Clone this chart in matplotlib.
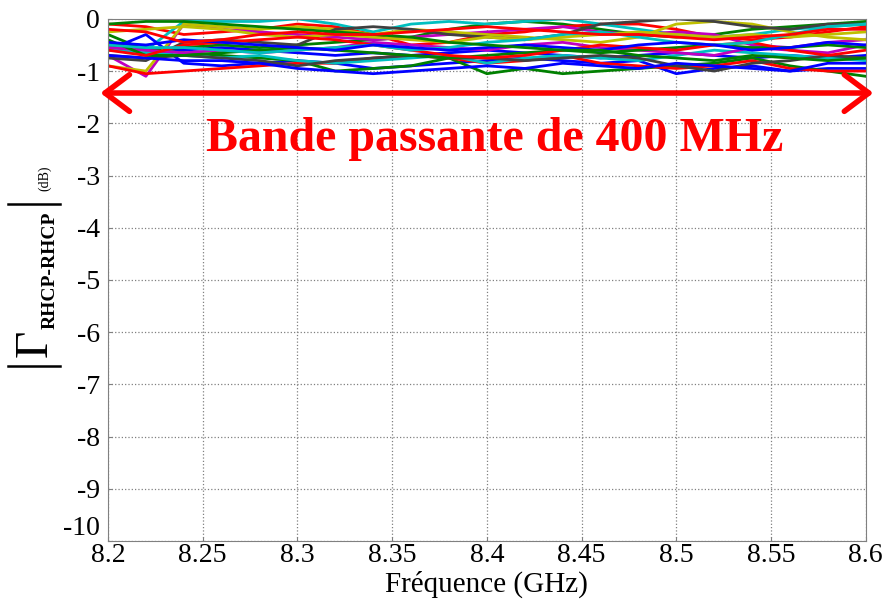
import numpy as np
import matplotlib
matplotlib.use('Agg')
import matplotlib.pyplot as plt
from matplotlib.lines import Line2D

plt.rcParams['font.family'] = ['Liberation Serif', 'DejaVu Serif']
plt.rcParams['axes.unicode_minus'] = False

# frequency points (GHz)
freq = [8.20, 8.22, 8.24, 8.26, 8.28, 8.30, 8.32, 8.34, 8.36, 8.38, 8.40,
        8.42, 8.44, 8.46, 8.48, 8.50, 8.52, 8.54, 8.56, 8.58, 8.60]

# |Gamma RHCP-RHCP| in dB, one list per curve
blue1 = [-0.5, -0.55, -0.6, -0.55, -0.6, -0.65, -0.7, -0.65, -0.7, -0.65, -0.6, -0.65, -0.7, -0.75, -0.7, -0.65, -0.7, -0.75, -0.7, -0.75, -0.7]
blue2 = [-0.6, -0.3, -0.85, -0.9, -0.85, -0.8, -0.85, -0.95, -0.9, -0.85, -0.8, -0.75, -0.8, -0.85, -0.8, -1.05, -0.95, -0.9, -1.0, -0.95, -0.95]
blue3 = [-0.7, -0.75, -0.8, -0.8, -0.85, -0.95, -1.0, -1.05, -1.0, -0.95, -0.9, -0.95, -0.85, -0.9, -0.95, -0.85, -0.9, -0.95, -1.0, -0.85, -0.85]
blue4 = [-0.45, -0.5, -0.4, -0.45, -0.5, -0.55, -0.6, -0.5, -0.55, -0.6, -0.55, -0.5, -0.55, -0.6, -0.5, -0.45, -0.5, -0.6, -0.55, -0.45, -0.5]
green1 = [-0.3, -0.6, -0.55, -0.5, -0.55, -0.5, -0.45, -0.4, -0.35, -0.2, -0.1, -0.05, -0.1, -0.2, -0.3, -0.35, -0.3, -0.2, -0.15, -0.1, -0.05]
green2 = [-0.55, -0.6, -0.65, -0.7, -0.75, -0.8, -1.0, -0.95, -0.9, -0.75, -1.05, -0.95, -1.05, -1.0, -0.95, -0.9, -0.85, -0.75, -0.9, -1.0, -1.1]
green3 = [-0.4, -0.7, -0.7, -0.65, -0.6, -0.55, -0.6, -0.65, -0.7, -0.75, -0.7, -0.65, -0.6, -0.65, -0.6, -0.55, -0.5, -0.55, -0.55, -0.5, -0.55]
green4 = [-0.1, -0.05, -0.05, -0.1, -0.15, -0.2, -0.25, -0.3, -0.35, -0.45, -0.5, -0.55, -0.6, -0.6, -0.7, -0.75, -0.8, -0.7, -0.75, -0.8, -0.75]
red1 = [-0.1, -0.15, -0.3, -0.25, -0.2, -0.1, -0.15, -0.3, -0.5, -0.45, -0.3, -0.25, -0.15, -0.1, -0.1, -0.2, -0.35, -0.4, -0.35, -0.25, -0.15]
red2 = [-0.9, -1.05, -1.0, -0.95, -0.9, -0.85, -0.85, -0.75, -0.7, -0.75, -0.85, -0.8, -0.7, -0.85, -0.9, -0.95, -0.9, -0.8, -0.95, -1.0, -1.0]
red3 = [-0.6, -0.7, -0.5, -0.45, -0.4, -0.35, -0.4, -0.5, -0.6, -0.7, -0.75, -0.7, -0.6, -0.5, -0.55, -0.6, -0.5, -0.45, -0.6, -0.7, -0.6]
red4 = [-0.2, -0.25, -0.45, -0.4, -0.3, -0.25, -0.3, -0.3, -0.25, -0.2, -0.15, -0.2, -0.25, -0.3, -0.3, -0.35, -0.4, -0.35, -0.3, -0.2, -0.2]
cyan1 = [-0.5, -0.6, -0.05, -0.05, -0.05, -0.0, -0.1, -0.25, -0.1, -0.05, -0.1, -0.05, -0.0, -0.1, -0.2, -0.3, -0.35, -0.3, -0.2, -0.15, -0.1]
cyan2 = [-0.6, -0.65, -0.7, -0.75, -0.7, -0.8, -0.85, -0.8, -0.75, -0.7, -0.85, -0.75, -0.7, -0.75, -0.8, -0.7, -0.6, -0.65, -0.7, -0.75, -0.8]
cyan3 = [-0.5, -0.55, -0.55, -0.6, -0.65, -0.6, -0.55, -0.5, -0.6, -0.55, -0.45, -0.4, -0.3, -0.25, -0.35, -0.45, -0.5, -0.45, -0.3, -0.15, -0.1]
magenta1 = [-0.7, -1.1, -0.1, -0.2, -0.25, -0.3, -0.35, -0.4, -0.35, -0.3, -0.25, -0.2, -0.15, -0.25, -0.3, -0.25, -0.3, -0.5, -0.55, -0.45, -0.4]
magenta2 = [-0.55, -0.6, -0.65, -0.6, -0.65, -0.6, -0.55, -0.45, -0.5, -0.55, -0.6, -0.5, -0.45, -0.55, -0.6, -0.65, -0.7, -0.55, -0.6, -0.65, -0.5]
yellow1 = [-0.9, -1.0, -0.1, -0.15, -0.2, -0.15, -0.2, -0.3, -0.2, -0.25, -0.3, -0.35, -0.4, -0.45, -0.35, -0.1, -0.05, -0.1, -0.25, -0.35, -0.4]
yellow2 = [-0.25, -0.2, -0.15, -0.2, -0.3, -0.35, -0.3, -0.35, -0.4, -0.45, -0.35, -0.4, -0.35, -0.3, -0.25, -0.3, -0.35, -0.3, -0.35, -0.3, -0.25]
gray1 = [-0.75, -0.8, -0.45, -0.4, -0.45, -0.5, -0.2, -0.15, -0.2, -0.3, -0.35, -0.4, -0.3, -0.1, -0.05, -0.0, -0.05, -0.15, -0.2, -0.1, -0.1]
gray2 = [-0.7, -0.75, -0.7, -0.75, -0.8, -0.9, -0.8, -0.75, -0.7, -0.75, -0.75, -0.8, -0.75, -0.7, -0.75, -0.9, -1.0, -0.85, -0.8, -0.7, -0.75]

curves = [(blue1, '#0000ff'), (green1, '#008000'), (red1, '#ff0000'),
          (cyan1, '#00bfbf'), (magenta1, '#bf00bf'), (yellow1, '#bfbf00'),
          (gray1, '#404040'), (blue2, '#0000ff'), (green2, '#008000'),
          (red2, '#ff0000'), (cyan2, '#00bfbf'), (magenta2, '#bf00bf'),
          (yellow2, '#bfbf00'), (gray2, '#404040'), (blue3, '#0000ff'),
          (green3, '#008000'), (red3, '#ff0000'), (cyan3, '#00bfbf'),
          (blue4, '#0000ff'), (green4, '#008000'), (red4, '#ff0000')]

fig = plt.figure(figsize=(8.88, 6.08), dpi=100)
ax = fig.add_axes([0.1216, 0.110, 0.8534, 0.859])

for vals, col in curves:
    ax.plot(freq, vals, color=col, lw=2)

ax.set_xlim(8.2, 8.6)
ax.set_ylim(-10, 0)
ax.set_xticks([8.2, 8.25, 8.3, 8.35, 8.4, 8.45, 8.5, 8.55, 8.6])
ax.set_xticklabels(['8.2', '8.25', '8.3', '8.35', '8.4', '8.45', '8.5', '8.55', '8.6'])
ax.set_yticks(np.arange(-10, 1, 1))
ax.grid(True, linestyle=':', color='#808080', lw=0.9)
ax.tick_params(direction='in', length=3, labelsize=20, colors='#808080', labelcolor='black')
ax.tick_params(axis='x', pad=1)
ax.tick_params(axis='y', pad=6)
ax.get_yticklabels()[0].set_verticalalignment('bottom')
for s in ax.spines.values():
    s.set_color('#808080')
ax.set_xlabel('Fréquence (GHz)', fontsize=21, labelpad=2)

# y label |Gamma RHCP-RHCP| (dB), built from pieces
fig.text(0.040, 0.436, 'Γ', rotation=90, fontsize=34, ha='center', va='center',
         family=['Liberation Serif', 'DejaVu Serif'])
fig.text(0.056, 0.556, 'RHCP-RHCP', rotation=90, fontsize=14, fontweight='bold',
         ha='center', va='center')
fig.text(0.05, 0.707, '(dB)', rotation=90, fontsize=10, ha='center', va='center')
for yb in [0.664, 0.398]:
    fig.add_artist(Line2D([0.009, 0.068], [yb, yb], color='black', lw=1.8,
                          transform=fig.transFigure))

# bandwidth arrow
ax.annotate('', xy=(8.196, -1.42), xytext=(8.604, -1.42),
            arrowprops=dict(arrowstyle='<->, head_length=0.8, head_width=0.6',
                            color='#ff0000', lw=4, mutation_scale=22,
                            shrinkA=0, shrinkB=0),
            annotation_clip=False)
ax.text(8.404, -2.3, 'Bande passante de 400 MHz', color='#ff0000',
        fontsize=34.5, fontweight='bold', ha='center', va='center')

fig.savefig('out.png', dpi=100)
